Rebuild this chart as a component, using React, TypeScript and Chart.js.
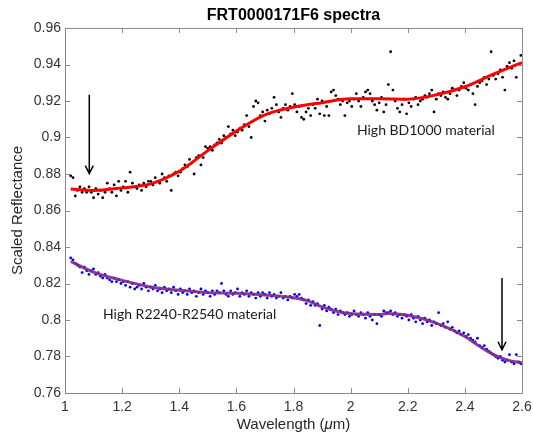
import React, { useEffect, useRef } from "react";
import { Chart, registerables } from "chart.js";

Chart.register(...registerables);

const TITLE = "FRT0000171F6 spectra";
const X_LABEL_PRE = "Wavelength (";
const X_LABEL_MU = "\u03BC";
const X_LABEL_POST = "m)";
const Y_LABEL = "Scaled Reflectance";
const LABEL_UPPER = "High BD1000 material";
const LABEL_LOWER = "High R2240-R2540 material";

const X_MIN = 1, X_MAX = 2.6, X_STEP = 0.2;
const Y_MIN = 0.76, Y_MAX = 0.96, Y_STEP = 0.02;

// Wavelength grid (µm)
const WAVELENGTHS = [
  1.020,1.028,1.036,1.044,1.052,1.060,1.068,1.076,1.084,1.092,
  1.100,1.108,1.116,1.124,1.132,1.140,1.148,1.156,1.164,1.172,
  1.180,1.188,1.196,1.204,1.212,1.220,1.228,1.236,1.244,1.252,
  1.260,1.268,1.276,1.284,1.292,1.300,1.308,1.316,1.324,1.332,
  1.340,1.348,1.356,1.364,1.372,1.380,1.388,1.396,1.404,1.412,
  1.420,1.428,1.436,1.444,1.452,1.460,1.468,1.476,1.484,1.492,
  1.500,1.508,1.516,1.524,1.532,1.540,1.548,1.556,1.564,1.572,
  1.580,1.588,1.596,1.604,1.612,1.620,1.628,1.636,1.644,1.652,
  1.660,1.668,1.676,1.684,1.692,1.700,1.708,1.716,1.724,1.732,
  1.740,1.748,1.756,1.764,1.772,1.780,1.788,1.796,1.804,1.812,
  1.820,1.828,1.836,1.844,1.852,1.860,1.868,1.876,1.884,1.892,
  1.900,1.908,1.916,1.924,1.932,1.940,1.948,1.956,1.964,1.972,
  1.980,1.988,1.996,2.004,2.012,2.020,2.028,2.036,2.044,2.052,
  2.060,2.068,2.076,2.084,2.092,2.100,2.108,2.116,2.124,2.132,
  2.140,2.148,2.156,2.164,2.172,2.180,2.188,2.196,2.204,2.212,
  2.220,2.228,2.236,2.244,2.252,2.260,2.268,2.276,2.284,2.292,
  2.300,2.308,2.316,2.324,2.332,2.340,2.348,2.356,2.364,2.372,
  2.380,2.388,2.396,2.404,2.412,2.420,2.428,2.436,2.444,2.452,
  2.460,2.468,2.476,2.484,2.492,2.500,2.508,2.516,2.524,2.532,
  2.540,2.548,2.556,2.564,2.572,2.580,2.588,2.596,
];

// High BD1000 material spectrum (black dots)
const UPPER_SPECTRUM = [
  0.879,0.878,0.868,0.871,0.873,0.870,0.872,0.870,0.873,0.870,
  0.867,0.872,0.869,0.871,0.867,0.870,0.875,0.872,0.870,0.874,
  0.868,0.876,0.871,0.873,0.876,0.870,0.881,0.875,0.873,0.872,
  0.874,0.871,0.875,0.873,0.876,0.876,0.874,0.878,0.876,0.875,
  0.880,0.878,0.876,0.879,0.871,0.880,0.881,0.879,0.881,0.883,
  0.885,0.884,0.888,0.886,0.880,0.889,0.890,0.885,0.889,0.895,
  0.894,0.895,0.893,0.896,0.897,0.899,0.897,0.901,0.900,0.906,
  0.902,0.904,0.901,0.903,0.905,0.904,0.907,0.912,0.906,0.900,
  0.917,0.920,0.919,0.912,0.914,0.909,0.915,0.913,0.916,0.922,
  0.918,0.914,0.911,0.916,0.918,0.915,0.917,0.924,0.918,0.914,
  0.917,0.911,0.910,0.914,0.916,0.912,0.918,0.916,0.921,0.913,
  0.920,0.912,0.917,0.912,0.925,0.926,0.923,0.921,0.918,0.920,
  0.912,0.919,0.920,0.917,0.921,0.924,0.920,0.917,0.922,0.925,
  0.926,0.924,0.920,0.918,0.915,0.919,0.922,0.914,0.918,0.929,
  0.947,0.926,0.920,0.916,0.914,0.918,0.921,0.913,0.919,0.917,
  0.921,0.922,0.918,0.920,0.921,0.923,0.922,0.924,0.926,0.914,
  0.921,0.924,0.923,0.925,0.922,0.921,0.924,0.927,0.926,0.923,
  0.926,0.928,0.930,0.927,0.926,0.929,0.924,0.918,0.928,0.930,
  0.931,0.933,0.929,0.932,0.947,0.934,0.932,0.935,0.937,0.933,
  0.926,0.939,0.941,0.938,0.942,0.933,0.940,0.945,
];

// High R2240-R2540 material spectrum (blue dots)
const LOWER_SPECTRUM = [
  0.834,0.833,0.831,0.830,0.829,0.826,0.829,0.827,0.825,0.827,
  0.828,0.825,0.826,0.824,0.823,0.825,0.823,0.822,0.821,0.823,
  0.821,0.822,0.820,0.821,0.819,0.821,0.818,0.820,0.817,0.818,
  0.819,0.817,0.820,0.818,0.816,0.818,0.817,0.819,0.816,0.817,
  0.815,0.818,0.816,0.817,0.815,0.818,0.816,0.814,0.817,0.815,
  0.816,0.814,0.817,0.815,0.816,0.813,0.815,0.817,0.814,0.816,
  0.815,0.813,0.816,0.814,0.816,0.815,0.820,0.816,0.814,0.813,
  0.816,0.814,0.815,0.817,0.813,0.815,0.814,0.816,0.813,0.815,
  0.814,0.812,0.815,0.813,0.815,0.814,0.812,0.815,0.813,0.814,
  0.812,0.813,0.815,0.812,0.813,0.811,0.813,0.812,0.814,0.813,
  0.814,0.812,0.811,0.809,0.811,0.808,0.810,0.808,0.809,0.797,
  0.806,0.808,0.805,0.807,0.806,0.804,0.806,0.803,0.805,0.804,
  0.803,0.804,0.802,0.803,0.805,0.803,0.802,0.804,0.803,0.801,
  0.804,0.802,0.800,0.803,0.798,0.803,0.802,0.805,0.804,0.804,
  0.805,0.803,0.804,0.802,0.803,0.801,0.803,0.802,0.800,0.803,
  0.801,0.799,0.802,0.800,0.798,0.801,0.799,0.800,0.797,0.799,
  0.798,0.804,0.797,0.798,0.796,0.799,0.795,0.796,0.794,0.793,
  0.794,0.792,0.793,0.791,0.792,0.790,0.789,0.788,0.790,0.786,
  0.785,0.786,0.784,0.783,0.782,0.781,0.780,0.779,0.780,0.778,
  0.777,0.778,0.781,0.777,0.776,0.781,0.777,0.776,
];

// Smoothed fits
const UPPER_FIT_X = [1.02,1.1,1.2,1.3,1.4,1.5,1.6,1.7,1.8,1.9,2.0,2.1,2.2,2.3,2.4,2.5,2.6];
const UPPER_FIT_Y = [0.8718,0.8710,0.8724,0.8746,0.8815,0.8928,0.9035,0.9124,0.9166,0.9191,0.9212,0.9212,0.9210,0.9234,0.9278,0.9347,0.9410];
const LOWER_FIT_X = [1.02,1.1,1.2,1.3,1.4,1.5,1.6,1.7,1.8,1.85,1.9,1.95,2.0,2.1,2.13,2.2,2.3,2.4,2.45,2.5,2.55,2.6];
const LOWER_FIT_Y = [0.8321,0.8262,0.8217,0.8181,0.8163,0.8150,0.8146,0.8137,0.8122,0.8105,0.8072,0.8048,0.8035,0.8030,0.8036,0.8026,0.7983,0.7910,0.7857,0.7810,0.7780,0.7766];

// Arrows: [x, yTop, yTip]
const ARROW_UPPER = [1.085, 0.9234, 0.8802];
const ARROW_LOWER = [2.530, 0.8230, 0.7837];
// Label anchors [x (left), y (middle)]
const LABEL_UPPER_POS = [2.022, 0.9036];
const LABEL_LOWER_POS = [1.133, 0.8029];

const SANS = "'Liberation Sans', Arial, sans-serif";

function pairs(xs: number[], ys: number[]) {
  const n = Math.min(xs.length, ys.length);
  const out: { x: number; y: number }[] = [];
  for (let i = 0; i < n; i++) out.push({ x: xs[i], y: ys[i] });
  return out;
}

function fmt(v: number) {
  return String(parseFloat(Number(v).toFixed(2)));
}

const overlay = {
  id: "overlay",
  afterDraw(chart: any) {
    const ctx = chart.ctx;
    const { left, right, top, bottom } = chart.chartArea;
    const xs = chart.scales.x;
    const ys = chart.scales.y;
    ctx.save();
    // box
    ctx.strokeStyle = "#8a8a8a";
    ctx.lineWidth = 1;
    ctx.beginPath();
    ctx.rect(Math.round(left) + 0.5, Math.round(top) + 0.5, Math.round(right - left), Math.round(bottom - top));
    ctx.stroke();
    // inner ticks
    const TL = 5;
    ctx.beginPath();
    xs.ticks.forEach((t: any) => {
      const px = Math.round(xs.getPixelForValue(t.value)) + 0.5;
      ctx.moveTo(px, bottom); ctx.lineTo(px, bottom - TL);
      ctx.moveTo(px, top); ctx.lineTo(px, top + TL);
    });
    ys.ticks.forEach((t: any) => {
      const py = Math.round(ys.getPixelForValue(t.value)) + 0.5;
      ctx.moveTo(left, py); ctx.lineTo(left + TL, py);
      ctx.moveTo(right, py); ctx.lineTo(right - TL, py);
    });
    ctx.stroke();

    // arrows
    const drawArrow = (a: number[]) => {
      const px = xs.getPixelForValue(a[0]);
      const y0 = ys.getPixelForValue(a[1]);
      const y1 = ys.getPixelForValue(a[2]);
      ctx.strokeStyle = "#000";
      ctx.lineWidth = 1.5;
      ctx.beginPath();
      ctx.moveTo(px, y0); ctx.lineTo(px, y1);
      ctx.moveTo(px - 4, y1 - 8); ctx.lineTo(px, y1); ctx.lineTo(px + 4, y1 - 8);
      ctx.stroke();
    };
    drawArrow(ARROW_UPPER);
    drawArrow(ARROW_LOWER);

    // annotation labels
    ctx.fillStyle = "#1a1a1a";
    ctx.font = "14px Lato, 'Open Sans', sans-serif";
    ctx.textAlign = "left";
    ctx.textBaseline = "middle";
    ctx.fillText(LABEL_UPPER, xs.getPixelForValue(LABEL_UPPER_POS[0]), ys.getPixelForValue(LABEL_UPPER_POS[1]));
    ctx.fillText(LABEL_LOWER, xs.getPixelForValue(LABEL_LOWER_POS[0]), ys.getPixelForValue(LABEL_LOWER_POS[1]));

    // title
    const cx = (left + right) / 2;
    ctx.fillStyle = "#000";
    ctx.font = `bold 16px ${SANS}`;
    ctx.textAlign = "center";
    ctx.textBaseline = "middle";
    ctx.fillText(TITLE, cx, 16);

    // x label with italic mu
    ctx.fillStyle = "#262626";
    const normal = `15px ${SANS}`;
    const ital = `italic 15px ${SANS}`;
    ctx.font = normal;
    const w1 = ctx.measureText(X_LABEL_PRE).width;
    const w3 = ctx.measureText(X_LABEL_POST).width;
    ctx.font = ital;
    const w2 = ctx.measureText(X_LABEL_MU).width;
    let x0 = cx - (w1 + w2 + w3) / 2;
    const yl = 425;
    ctx.textAlign = "left";
    ctx.font = normal;
    ctx.fillText(X_LABEL_PRE, x0, yl);
    ctx.font = ital;
    ctx.fillText(X_LABEL_MU, x0 + w1, yl);
    ctx.font = normal;
    ctx.fillText(X_LABEL_POST, x0 + w1 + w2, yl);

    // y label
    ctx.save();
    ctx.translate(18, (top + bottom) / 2);
    ctx.rotate(-Math.PI / 2);
    ctx.textAlign = "center";
    ctx.textBaseline = "middle";
    ctx.font = normal;
    ctx.fillText(Y_LABEL, 0, 0);
    ctx.restore();

    ctx.restore();
  },
};

export default function App() {
  const ref = useRef<HTMLCanvasElement | null>(null);
  useEffect(() => {
    if (!ref.current) return;
    const chart = new Chart(ref.current, {
      type: "scatter",
      data: {
        datasets: [
          {
            data: pairs(UPPER_FIT_X, UPPER_FIT_Y),
            showLine: true,
            borderColor: "#ff0000",
            borderWidth: 3,
            pointRadius: 0,
            cubicInterpolationMode: "monotone",
            order: 1,
          } as any,
          {
            data: pairs(LOWER_FIT_X, LOWER_FIT_Y),
            showLine: true,
            borderColor: "rgba(128,40,140,0.9)",
            borderWidth: 3,
            pointRadius: 0,
            cubicInterpolationMode: "monotone",
            order: 2,
          } as any,
          {
            data: pairs(WAVELENGTHS, UPPER_SPECTRUM),
            backgroundColor: "#000000",
            borderWidth: 0,
            pointRadius: 1.4,
            order: 3,
          },
          {
            data: pairs(WAVELENGTHS, LOWER_SPECTRUM),
            backgroundColor: "#0000ff",
            borderWidth: 0,
            pointRadius: 1.4,
            order: 4,
          },
        ],
      },
      options: {
        animation: false,
        responsive: false,
        devicePixelRatio: 1,
        layout: { padding: { top: 28, right: 11, left: 0, bottom: 0 } },
        plugins: { legend: { display: false }, tooltip: { enabled: false }, title: { display: false } },
        scales: {
          x: {
            type: "linear",
            min: X_MIN,
            max: X_MAX,
            grid: { display: false, drawTicks: false },
            border: { display: false },
            ticks: {
              stepSize: X_STEP,
              padding: 6,
              color: "#333",
              font: { family: SANS, size: 14 },
              callback: (v: any) => fmt(v),
            },
            afterFit: (s: any) => { s.height = 47; s.paddingLeft = 0; s.paddingRight = 0; },
          },
          y: {
            type: "linear",
            min: Y_MIN,
            max: Y_MAX,
            grid: { display: false, drawTicks: false },
            border: { display: false },
            ticks: {
              stepSize: Y_STEP,
              padding: 4,
              color: "#333",
              font: { family: SANS, size: 14 },
              callback: (v: any) => fmt(v),
            },
            afterFit: (s: any) => { s.width = 65; s.paddingTop = 0; s.paddingBottom = 0; },
          },
        },
      },
      plugins: [overlay],
    });
    return () => chart.destroy();
  }, []);
  return (
    <div style={{ position: "fixed", left: 0, top: 0, width: 533, height: 440, background: "#fff" }}>
      <canvas ref={ref} width={533} height={440} style={{ display: "block" }} />
    </div>
  );
}
